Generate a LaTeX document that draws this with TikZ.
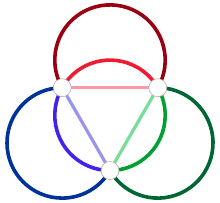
\documentclass[tikz,border=0pt]{standalone}
\usetikzlibrary{backgrounds,calc}
\definecolor{dred}{HTML}{990010}
\definecolor{ired}{HTML}{EE1C30}
\definecolor{pinkedge}{HTML}{FF99A6}
\definecolor{dblue}{HTML}{003399}
\definecolor{iblue}{HTML}{4422EE}
\definecolor{lavedge}{HTML}{9994EE}
\definecolor{dgreen}{HTML}{006633}
\definecolor{igreen}{HTML}{00A033}
\definecolor{lgedge}{HTML}{77DD99}
\tikzset{
  vert/.style={circle, draw=gray!70, line width=0.5pt, fill=white, minimum size=18pt, inner sep=0pt},
  ring/.style={line width=3.6pt},
  tri/.style={line width=3.2pt},
}
\begin{document}
\begin{tikzpicture}[x=1pt,y=1pt]
\useasboundingbox (0,0) rectangle (220,202);
\def\R{55.2}
\coordinate (o) at (110,86.7);
\node[vert] (a) at ($(o)+(150:\R)$) {};
\node[vert] (b) at ($(o)+(30:\R)$) {};
\node[vert] (c) at ($(o)+(270:\R)$) {};
\begin{scope}[on background layer]
  \draw[ring, dred]   (b.center) arc[start angle=-30, end angle=210, radius=\R];
  \draw[ring, dblue]  (a.center) arc[start angle=90, end angle=330, radius=\R];
  \draw[ring, dgreen] (c.center) arc[start angle=210, end angle=450, radius=\R];
  \draw[ring, ired]   (a.center) arc[start angle=150, end angle=30, radius=\R];
  \draw[ring, iblue]  (a.center) arc[start angle=150, end angle=270, radius=\R];
  \draw[ring, igreen] (c.center) arc[start angle=270, end angle=390, radius=\R];
  \draw[tri, pinkedge] (a) -- (b);
  \draw[tri, lavedge]  (a) -- (c);
  \draw[tri, lgedge]   (b) -- (c);
\end{scope}
\end{tikzpicture}
\end{document}
